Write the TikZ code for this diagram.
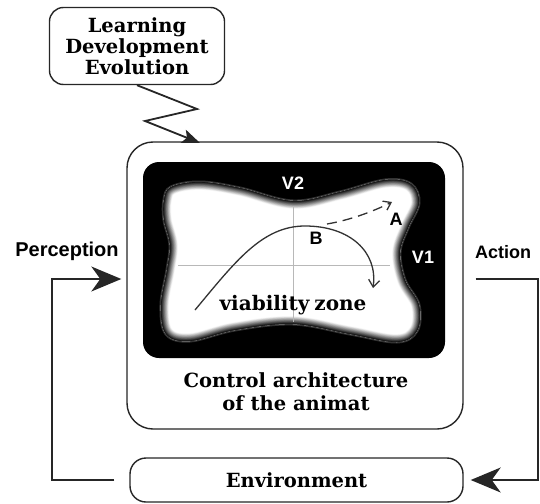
\documentclass[tikz,border=0pt]{standalone}
\usepackage{fontspec}
\setmainfont{DejaVu Serif}
\newfontfamily\labfont{Liberation Sans}
\usetikzlibrary{arrows.meta}
\newcommand\blobpath{plot[smooth cycle, tension=0.6] coordinates {(171,187) (200,182) (240,188) (293,201) (340,192) (385,180) (411,184) (419,203) (408,228) (400,252) (405,280) (419,305) (417,331) (397,342) (350,334) (293,324) (235,330) (190,341) (166,334) (161,305) (167,270) (170,245) (164,220) (164,200)}}
\tikzset{
  rbox/.style={draw=black!85, line width=1.4pt, fill=white, align=center, font=\bfseries\fontsize{19.5}{22}\selectfont, inner sep=0pt},
  conn/.style={draw=black!85, line width=1.5pt},
  bigtip/.style={-{Stealth[length=30pt,width=25pt,inset=9pt]}},
  lab/.style={font=\labfont\bfseries\fontsize{18}{20}\selectfont, inner sep=0pt},
  traj/.style={draw=black!80, line width=1.3pt},
}
\begin{document}
\begin{tikzpicture}[x=1pt,y=-1pt]
\useasboundingbox (0,0) rectangle (540,503);
% boxes
\node[rbox, rounded corners=14pt, minimum width=175pt, minimum height=77pt] (learn) at (137,46) {Learning\\[-1pt]Development\\[-1pt]Evolution};
\node[rbox, rounded corners=26pt, minimum width=336pt, minimum height=287pt] (main) at (295,285.5) {};
\node[fill=black, rounded corners=16pt, minimum width=302pt, minimum height=196pt, inner sep=0pt] (zone) at (294,260) {};
\node[rbox, rounded corners=16pt, minimum width=333pt, minimum height=44pt] (env) at (296.5,480) {Environment};
% blob with blurred edge
\draw[line width=3pt, black!80] \blobpath;
\fill[white] \blobpath;
\begin{scope}
  \clip \blobpath;
  \foreach \i in {0,...,11} {
    \pgfmathsetmacro\w{1.3*(12-\i)}
    \pgfmathsetmacro\c{3+\i*8}
    \draw[line width=\w pt, black!\c] \blobpath;
  }
\end{scope}
% grid cross
\coordinate (gt) at (293,207);
\coordinate (gb) at (293,322);
\coordinate (gl) at (178,265);
\coordinate (gr) at (390,265);
\draw[black!28, line width=1pt] (gt) -- (gb);
\draw[black!28, line width=1pt] (gl) -- (gr);
% trajectory
\coordinate (t0) at (195,310);
\coordinate (t1) at (305,226);
\coordinate (t2) at (373,288);
\coordinate (d0) at (327,224);
\coordinate (d1) at (392,202);
\draw[traj, -{Straight Barb[length=7pt,width=11pt]}] (t0) .. controls (235,262) and (262,226) .. (t1) .. controls (350,226) and (378,252) .. (t2);
\draw[traj, dashed, dash pattern=on 10pt off 6pt, -{Straight Barb[length=7pt,width=10pt]}] (d0) .. controls (350,220) and (372,212) .. (d1);
% labels in zone
\node[lab, text=white] (v2) at (293,183) {V2};
\node[lab, text=white] (v1) at (423,257) {V1};
\node[lab] (la) at (396,219) {A};
\node[lab] (lb) at (316,238) {B};
\node[font=\bfseries\fontsize{20}{22}\selectfont, inner sep=0pt] (vz) at (293,305) {viability\hspace{0.25em}zone};
\node[font=\bfseries\fontsize{19.5}{23}\selectfont, align=center, inner sep=0pt] (ctl) at (296,392) {Control architecture\\of the animat};
% side labels
\node[lab, font=\labfont\bfseries\fontsize{20}{22}\selectfont] (perc) at (67,251) {Perception};
\node[lab] (act) at (503,252) {Action};
% lightning
\coordinate (z1) at (197,109);
\coordinate (z2) at (145,121);
\coordinate (z3) at (200,143);
\draw[conn, line width=1.8pt, line join=miter, -{Stealth[length=18pt,width=14pt,inset=4pt]}] (learn.south) -- (z1) -- (z2) -- (z3);
% perception loop
\coordinate (pl) at (52,279);
\draw[conn, bigtip, shorten >=5pt] ([xshift=-15pt]env.west) -| (pl) -- (main.west |- pl);
% action loop
\coordinate (pr) at (538,279);
\draw[conn, bigtip, shorten >=7pt] ([xshift=12pt]main.east |- pr) -- (pr) |- (env.east);
\end{tikzpicture}
\end{document}
